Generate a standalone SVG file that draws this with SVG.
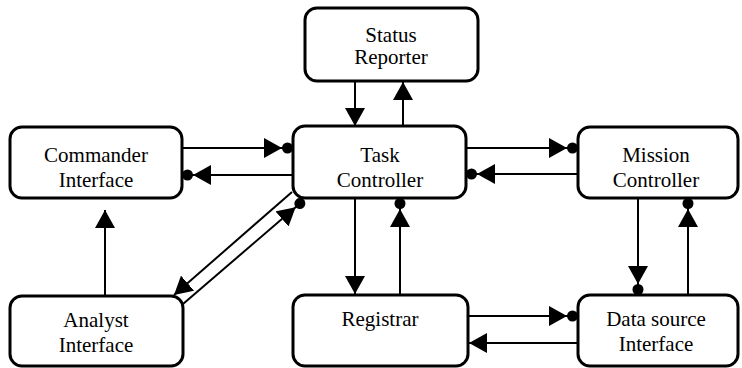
<svg xmlns="http://www.w3.org/2000/svg" width="742" height="368" viewBox="0 0 742 368">
<style>
.box{fill:#fff;stroke:#000;stroke-width:3}
.lbl{font-family:"Liberation Serif","Times New Roman",serif;font-size:21px;fill:#000;text-anchor:middle}
.c{stroke:#000;stroke-width:2;fill:none}
.a{marker-end:url(#arrow)}
.ad{marker-end:url(#arrowdot)}
</style>
<defs>
<marker id="arrow" markerUnits="userSpaceOnUse" markerWidth="18" markerHeight="20" refX="18" refY="10" orient="auto" viewBox="0 0 18 20">
<path d="M0,0 L18,10 L0,20 Z" fill="#000"/>
</marker>
<marker id="arrowdot" markerUnits="userSpaceOnUse" markerWidth="30" markerHeight="20" refX="29" refY="10" orient="auto" viewBox="0 0 30 20">
<path d="M0,0 L18,10 L0,20 Z" fill="#000"/>
<circle cx="23.5" cy="10" r="5.5" fill="#000"/>
</marker>
</defs>
<rect width="742" height="368" fill="#fff"/>
<g id="connectors">
<line class="c a" x1="355" y1="81" x2="355" y2="126"/>
<line class="c a" x1="403" y1="126" x2="403" y2="82"/>
<line class="c ad" x1="182" y1="148" x2="293" y2="148"/>
<line class="c ad" x1="293" y1="175" x2="182" y2="175"/>
<line class="c ad" x1="466" y1="148" x2="578" y2="148"/>
<line class="c ad" x1="578" y1="174" x2="466" y2="174"/>
<line class="c a" x1="355" y1="198" x2="355" y2="294"/>
<line class="c ad" x1="400" y1="295" x2="400" y2="198"/>
<line class="c ad" x1="638" y1="198" x2="638" y2="295"/>
<line class="c ad" x1="688" y1="295" x2="688" y2="198"/>
<line class="c ad" x1="468" y1="316" x2="578" y2="316"/>
<line class="c a" x1="578" y1="343" x2="469" y2="343"/>
<line class="c a" x1="105" y1="296" x2="105" y2="210"/>
<line class="c a" x1="292" y1="192" x2="174" y2="295"/>
<line class="c ad" x1="183" y1="304" x2="304" y2="200"/>
</g>
<g id="status">
<rect class="box" x="305" y="8" width="173" height="73" rx="12"/>
<text class="lbl" x="391" y="42">Status</text>
<text class="lbl" x="391" y="64">Reporter</text>
</g>
<g id="commander">
<rect class="box" x="10" y="127" width="172" height="71" rx="12"/>
<text class="lbl" x="96" y="162">Commander</text>
<text class="lbl" x="96" y="187">Interface</text>
</g>
<g id="task">
<rect class="box" x="293" y="126" width="173" height="72" rx="12"/>
<text class="lbl" x="380" y="162">Task</text>
<text class="lbl" x="380" y="187">Controller</text>
</g>
<g id="mission">
<rect class="box" x="578" y="127" width="160" height="71" rx="12"/>
<text class="lbl" x="656" y="162">Mission</text>
<text class="lbl" x="656" y="187">Controller</text>
</g>
<g id="analyst">
<rect class="box" x="10" y="296" width="173" height="70" rx="12"/>
<text class="lbl" x="96" y="327">Analyst</text>
<text class="lbl" x="96" y="352">Interface</text>
</g>
<g id="registrar">
<rect class="box" x="293" y="295" width="175" height="71" rx="12"/>
<text class="lbl" x="380" y="326">Registrar</text>
</g>
<g id="datasource">
<rect class="box" x="578" y="295" width="160" height="71" rx="12"/>
<text class="lbl" x="656" y="326">Data source</text>
<text class="lbl" x="656" y="351">Interface</text>
</g>
</svg>
